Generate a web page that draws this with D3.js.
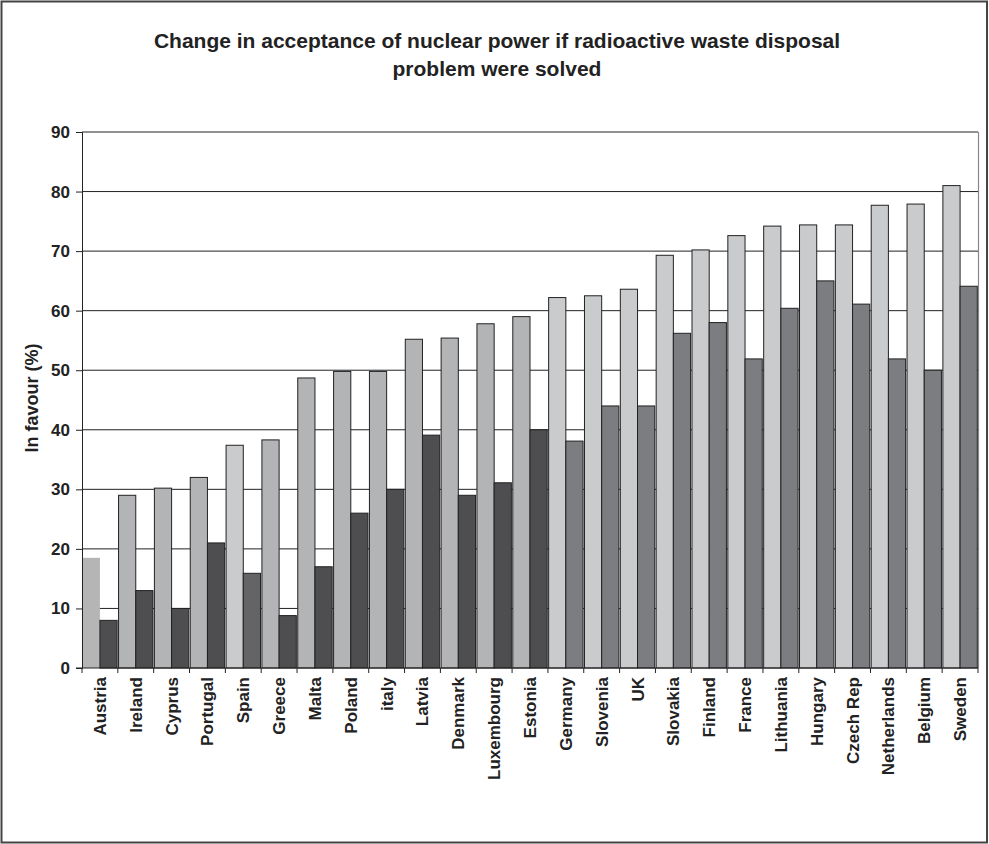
<!DOCTYPE html>
<html>
<head>
<meta charset="utf-8">
<script src="https://cdn.jsdelivr.net/npm/d3@7"></script>
<style>
  html, body { margin: 0; padding: 0; background: #fff; }
  svg { display: block; }
  text { font-family: "Liberation Sans", Arial, sans-serif; fill: #222; }
</style>
</head>
<body>
<script>
// Countries, ordered by acceptance if the waste problem were solved
const countries = ["Austria", "Ireland", "Cyprus", "Portugal", "Spain", "Greece", "Malta", "Poland",
  "italy", "Latvia", "Denmark", "Luxembourg", "Estonia", "Germany", "Slovenia", "UK", "Slovakia",
  "Finland", "France", "Lithuania", "Hungary", "Czech Rep", "Netherlands", "Belgium", "Sweden"];

// In favour (%) if the radioactive waste disposal problem were solved
const ifSolved = [18.5, 29, 30.2, 32, 37.4, 38.3, 48.7, 49.8, 49.8, 55.2, 55.4, 57.8, 59,
  62.2, 62.5, 63.6, 69.3, 70.2, 72.6, 74.2, 74.4, 74.4, 77.7, 77.9, 81];

// In favour (%) at present
const current = [8, 13, 10, 21, 15.9, 8.8, 17, 26, 30, 39.1, 29, 31.1, 40,
  38.1, 44, 44, 56.2, 58, 51.9, 60.4, 65, 61.1, 51.9, 50, 64.1];

const yTicks = [0, 10, 20, 30, 40, 50, 60, 70, 80, 90];

const W = 989, H = 844;
const margin = { left: 82, right: 11, top: 132, bottom: 176 };

const svg = d3.select("body").append("svg").attr("width", W).attr("height", H);

// outer frame
svg.append("rect")
  .attr("x", 1.5).attr("y", 1.5).attr("width", W - 3.5).attr("height", H - 3)
  .attr("fill", "none").attr("stroke", "#444").attr("stroke-width", 2);

// title
const title = svg.append("text")
  .attr("text-anchor", "middle")
  .attr("font-size", 21).attr("font-weight", "bold");
title.append("tspan").attr("x", 497).attr("y", 48)
  .text("Change in acceptance of nuclear power if radioactive waste disposal");
title.append("tspan").attr("x", 497).attr("y", 76).text("problem were solved");

const x0 = margin.left, x1 = W - margin.right;
const y0 = H - margin.bottom, y1 = margin.top;

const x = d3.scaleBand().domain(countries).range([x0, x1]).paddingInner(0.04).paddingOuter(0.02);
const xs = d3.scaleBand().domain(["ifSolved", "current"]).range([0, x.bandwidth()]);
const y = d3.scaleLinear().domain([0, 90]).range([y0, y1]);

// gridlines
svg.append("g").selectAll("line").data(yTicks.filter(d => d > 0)).join("line")
  .attr("x1", x0).attr("x2", x1)
  .attr("y1", d => y(d)).attr("y2", d => y(d))
  .attr("stroke", "#222").attr("stroke-width", 1);

// right plot edge
svg.append("line").attr("x1", x1 + 0.5).attr("x2", x1 + 0.5).attr("y1", y1).attr("y2", y0)
  .attr("stroke", "#888").attr("stroke-width", 1.2);

// shading by country group
function fillFor(i, series) {
  if (series === "ifSolved") {
    if (i === 0) return "#b5b5b5";
    if (i === 4 || i >= 13) return "#cacbcd";
    return "#b3b4b6";
  }
  if (i === 4) return "#646466";
  if (i >= 13) return "#7c7d81";
  return "#4e4e50";
}

const rows = countries.map((c, i) => ({ c, i, ifSolved: ifSolved[i], current: current[i] }));
const groups = svg.append("g").selectAll("g").data(rows).join("g")
  .attr("transform", d => `translate(${x(d.c)},0)`);

groups.selectAll("rect")
  .data(d => ["ifSolved", "current"].map(k => ({ k, v: d[k], i: d.i })))
  .join("rect")
  .attr("x", d => xs(d.k))
  .attr("width", xs.bandwidth())
  .attr("y", d => y(d.v))
  .attr("height", d => y(0) - y(d.v))
  .attr("fill", d => fillFor(d.i, d.k))
  .attr("stroke", d => (d.i === 0 && d.k === "ifSolved") ? "none" : "#222")
  .attr("stroke-width", 1);

// y axis
const yAxis = svg.append("g").attr("transform", `translate(${x0},0)`)
  .call(d3.axisLeft(y).tickValues(yTicks).tickSize(6).tickPadding(6));
yAxis.select(".domain").attr("stroke", "#222");
yAxis.selectAll(".tick line").attr("stroke", "#222");
yAxis.selectAll("text").attr("font-size", 17).attr("font-weight", "bold")
  .attr("font-family", "Liberation Sans, Arial, sans-serif").attr("fill", "#222");

// x axis with boundary ticks between categories
const xAxisG = svg.append("g");
xAxisG.append("line").attr("x1", x0 - 6).attr("x2", x1).attr("y1", y0).attr("y2", y0)
  .attr("stroke", "#222").attr("stroke-width", 1.2);
const step = (x1 - x0) / countries.length;
xAxisG.selectAll("line.tk").data(d3.range(countries.length + 1)).join("line")
  .attr("class", "tk")
  .attr("x1", d => x0 + d * step).attr("x2", d => x0 + d * step)
  .attr("y1", y0).attr("y2", y0 + 5)
  .attr("stroke", "#222");
xAxisG.selectAll("text").data(countries).join("text")
  .attr("transform", d => `translate(${x(d) + x.bandwidth() / 2 + 6},${y0 + 9}) rotate(-90)`)
  .attr("text-anchor", "end")
  .attr("font-size", 17).attr("font-weight", "bold")
  .text(d => d);

// y axis title
svg.append("text")
  .attr("transform", `translate(38,398) rotate(-90)`)
  .attr("text-anchor", "middle")
  .attr("font-size", 18).attr("font-weight", "bold")
  .text("In favour (%)");
</script>
</body>
</html>
